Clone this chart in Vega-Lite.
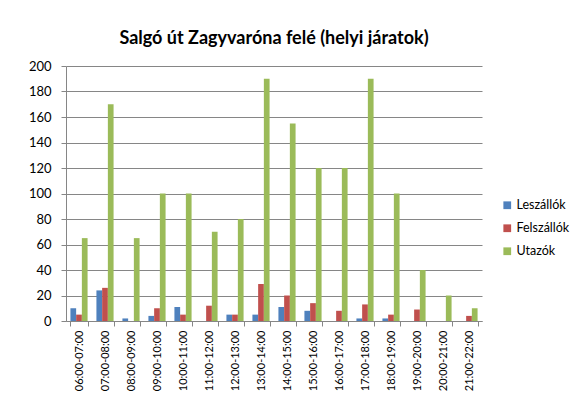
{
  "$schema": "https://vega.github.io/schema/vega-lite/v6.json",
  "width": 416,
  "height": 255,
  "autosize": {"type": "none"},
  "padding": {"left": 66, "top": 66, "right": 88, "bottom": 89},
  "background": "white",
  "title": {"text": "Salgó út Zagyvaróna felé (helyi járatok)", "font": "Lato", "fontSize": 18, "fontWeight": "bold", "color": "#000000", "anchor": "middle", "offset": 12},
  "data": {"values": [
    {"t": "06:00-07:00", "s": "Leszállók", "v": 10}, {"t": "06:00-07:00", "s": "Felszállók", "v": 5}, {"t": "06:00-07:00", "s": "Utazók", "v": 65},
    {"t": "07:00-08:00", "s": "Leszállók", "v": 24}, {"t": "07:00-08:00", "s": "Felszállók", "v": 26}, {"t": "07:00-08:00", "s": "Utazók", "v": 170},
    {"t": "08:00-09:00", "s": "Leszállók", "v": 2}, {"t": "08:00-09:00", "s": "Felszállók", "v": 0}, {"t": "08:00-09:00", "s": "Utazók", "v": 65},
    {"t": "09:00-10:00", "s": "Leszállók", "v": 4}, {"t": "09:00-10:00", "s": "Felszállók", "v": 10}, {"t": "09:00-10:00", "s": "Utazók", "v": 100},
    {"t": "10:00-11:00", "s": "Leszállók", "v": 11}, {"t": "10:00-11:00", "s": "Felszállók", "v": 5}, {"t": "10:00-11:00", "s": "Utazók", "v": 100},
    {"t": "11:00-12:00", "s": "Leszállók", "v": 0}, {"t": "11:00-12:00", "s": "Felszállók", "v": 12}, {"t": "11:00-12:00", "s": "Utazók", "v": 70},
    {"t": "12:00-13:00", "s": "Leszállók", "v": 5}, {"t": "12:00-13:00", "s": "Felszállók", "v": 5}, {"t": "12:00-13:00", "s": "Utazók", "v": 80},
    {"t": "13:00-14:00", "s": "Leszállók", "v": 5}, {"t": "13:00-14:00", "s": "Felszállók", "v": 29}, {"t": "13:00-14:00", "s": "Utazók", "v": 190},
    {"t": "14:00-15:00", "s": "Leszállók", "v": 11}, {"t": "14:00-15:00", "s": "Felszállók", "v": 20}, {"t": "14:00-15:00", "s": "Utazók", "v": 155},
    {"t": "15:00-16:00", "s": "Leszállók", "v": 8}, {"t": "15:00-16:00", "s": "Felszállók", "v": 14}, {"t": "15:00-16:00", "s": "Utazók", "v": 120},
    {"t": "16:00-17:00", "s": "Leszállók", "v": 0}, {"t": "16:00-17:00", "s": "Felszállók", "v": 8}, {"t": "16:00-17:00", "s": "Utazók", "v": 120},
    {"t": "17:00-18:00", "s": "Leszállók", "v": 2}, {"t": "17:00-18:00", "s": "Felszállók", "v": 13}, {"t": "17:00-18:00", "s": "Utazók", "v": 190},
    {"t": "18:00-19:00", "s": "Leszállók", "v": 2}, {"t": "18:00-19:00", "s": "Felszállók", "v": 5}, {"t": "18:00-19:00", "s": "Utazók", "v": 100},
    {"t": "19:00-20:00", "s": "Leszállók", "v": 0}, {"t": "19:00-20:00", "s": "Felszállók", "v": 9}, {"t": "19:00-20:00", "s": "Utazók", "v": 40},
    {"t": "20:00-21:00", "s": "Leszállók", "v": 0}, {"t": "20:00-21:00", "s": "Felszállók", "v": 0}, {"t": "20:00-21:00", "s": "Utazók", "v": 20},
    {"t": "21:00-22:00", "s": "Leszállók", "v": 0}, {"t": "21:00-22:00", "s": "Felszállók", "v": 4}, {"t": "21:00-22:00", "s": "Utazók", "v": 10}
  ]},
  "mark": {"type": "bar"},
  "encoding": {
    "x": {"field": "t", "type": "nominal", "sort": null, "title": null,
      "scale": {"paddingInner": 0.34, "paddingOuter": 0.17},
      "axis": {"labelAngle": -90, "labelFont": "Lato", "labelFontSize": 11, "labelColor": "#000000", "tickBand": "extent", "domainColor": "#868686", "tickColor": "#868686", "tickSize": 5, "labelPadding": 4}},
    "xOffset": {"field": "s", "type": "nominal", "sort": ["Leszállók", "Felszállók", "Utazók"]},
    "y": {"field": "v", "type": "quantitative", "title": null,
      "scale": {"domain": [0, 200], "nice": false},
      "axis": {"values": [0, 20, 40, 60, 80, 100, 120, 140, 160, 180, 200], "labelFont": "Lato", "labelFontSize": 13, "labelColor": "#000000", "gridColor": "#868686", "domainColor": "#868686", "tickColor": "#868686", "tickSize": 5, "labelPadding": 10}},
    "color": {"field": "s", "type": "nominal", "sort": ["Leszállók", "Felszállók", "Utazók"],
      "scale": {"domain": ["Leszállók", "Felszállók", "Utazók"], "range": ["#4F81BD", "#C0504D", "#9BBB59"]},
      "legend": {"title": null, "orient": "none", "legendX": 435, "legendY": 133, "symbolType": "square", "symbolSize": 60, "symbolStrokeWidth": 0, "labelFont": "Lato", "labelFontSize": 12.5, "labelColor": "#000000", "rowPadding": 10, "labelOffset": 3}}
  },
  "config": {"view": {"stroke": null}}
}
